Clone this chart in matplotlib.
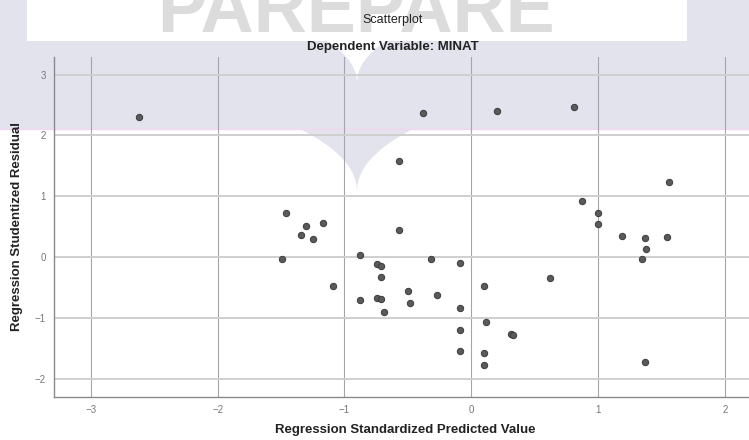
import numpy as np
import matplotlib
matplotlib.use("Agg")
import matplotlib.pyplot as plt
from matplotlib.patches import Rectangle, Polygon

# regression diagnostics: standardized predicted vs studentized residual
pred = [-2.62, -0.38, 0.20, 0.81, -0.57, 1.56, 0.87, 1.00, 1.00, 1.19,
        1.37, 1.54, 1.38, 1.35, 0.62, 0.31, 0.33, 1.37, -1.46, -1.30,
        -1.17, -1.34, -1.25, -0.57, -1.49, -0.88, -0.32, -0.09, -0.74, -0.71,
        -0.71, -1.09, 0.10, -0.88, -0.74, -0.71, -0.50, -0.48, -0.27, -0.69,
        -0.09, 0.12, -0.09, -0.09, 0.10, 0.10]
resid = [2.30, 2.37, 2.40, 2.47, 1.58, 1.23, 0.92, 0.73, 0.55, 0.35,
         0.32, 0.33, 0.13, -0.03, -0.35, -1.26, -1.28, -1.73, 0.72, 0.51,
         0.56, 0.37, 0.29, 0.45, -0.03, 0.04, -0.03, -0.10, -0.12, -0.14,
         -0.32, -0.47, -0.48, -0.70, -0.67, -0.69, -0.55, -0.76, -0.62, -0.90,
         -0.83, -1.06, -1.20, -1.55, -1.58, -1.77]
xticks = [-3, -2, -1, 0, 1, 2]
yticks = [-2, -1, 0, 1, 2, 3]

W, H = 749, 440
fig = plt.figure(figsize=(W / 100, H / 100), dpi=100)
fig.patch.set_facecolor("white")

# background layer in pixel units (watermark band of the scanned page)
bg = fig.add_axes([0, 0, 1, 1], zorder=0)
bg.set_xlim(0, W)
bg.set_ylim(H, 0)
bg.axis("off")
lav = "#e3e3ee"
bg.add_patch(Rectangle((0, 0), W, 129, color=lav, lw=0))
bg.add_patch(Rectangle((27, 0), 660, 41, color="white", lw=0))
bg.plot([0, W], [129.5, 129.5], color="#f3d6f0", lw=1)
bg.text(356, 32, "PAREPARE", fontsize=53, fontweight="bold",
        family="Liberation Sans", color="#dcdcdc", ha="center", va="baseline")

t = np.linspace(0, 1, 30)
# lavender tip hanging below the band
left = np.column_stack([300 + 57 * (1 - (1 - t) ** 2.2), 129 + 64 * t])
right = np.column_stack([413 - 56 * (1 - (1 - t) ** 2.2), 129 + 64 * t])
bg.add_patch(Polygon(np.vstack([left, right[::-1]]), color=lav, lw=0))
# white notch inside the band
left = np.column_stack([327 + 30 * (1 - (1 - t) ** 2.2), 41 + 43 * t])
right = np.column_stack([386 - 29 * (1 - (1 - t) ** 2.2), 41 + 43 * t])
bg.add_patch(Polygon(np.vstack([left, right[::-1]]), color="white", lw=0))

ax = fig.add_axes([54 / W, 1 - 397 / H, 1 - 54 / W, (397 - 57) / H], zorder=1)
ax.set_facecolor("none")
ax.set_xlim(-3.29, 2.19)
ax.set_ylim(-2.30, 3.29)
ax.set_xticks(xticks)
ax.set_yticks(yticks)
ax.grid(axis="y", color="#cfcfcf", lw=1.4)
ax.grid(axis="x", color="#a4a4ac", lw=0.8)
ax.set_axisbelow(True)
for s in ("top", "right"):
    ax.spines[s].set_visible(False)
for s in ("left", "bottom"):
    ax.spines[s].set_color("#8a8a8a")
    ax.spines[s].set_linewidth(1.0)
ax.tick_params(length=0, labelsize=7, labelcolor="#777777", pad=6)
for lab in ax.get_xticklabels() + ax.get_yticklabels():
    lab.set_family("Liberation Sans")

ax.scatter(pred, resid, s=21, color="#5a5a5a", edgecolors="#3c3c3c",
           linewidths=0.7, zorder=3)

fig.text(393 / W, 1 - 20 / H, "Scatterplot", ha="center", va="center",
         fontsize=9, family="Liberation Sans", color="#222222")
fig.text(393 / W, 1 - 47 / H, "Dependent Variable: MINAT", ha="center",
         va="center", fontsize=9.5, fontweight="bold", family="Liberation Sans",
         color="#222222")
fig.text(405 / W, 1 - 430 / H, "Regression Standardized Predicted Value",
         ha="center", va="center", fontsize=9.5, fontweight="bold",
         family="Liberation Sans", color="#222222")
fig.text(17 / W, 1 - 226 / H, "Regression Studentized Residual", ha="center",
         va="center", rotation=90, fontsize=9.5, fontweight="bold",
         family="Liberation Sans", color="#222222")

fig.savefig("out.png", dpi=100)
